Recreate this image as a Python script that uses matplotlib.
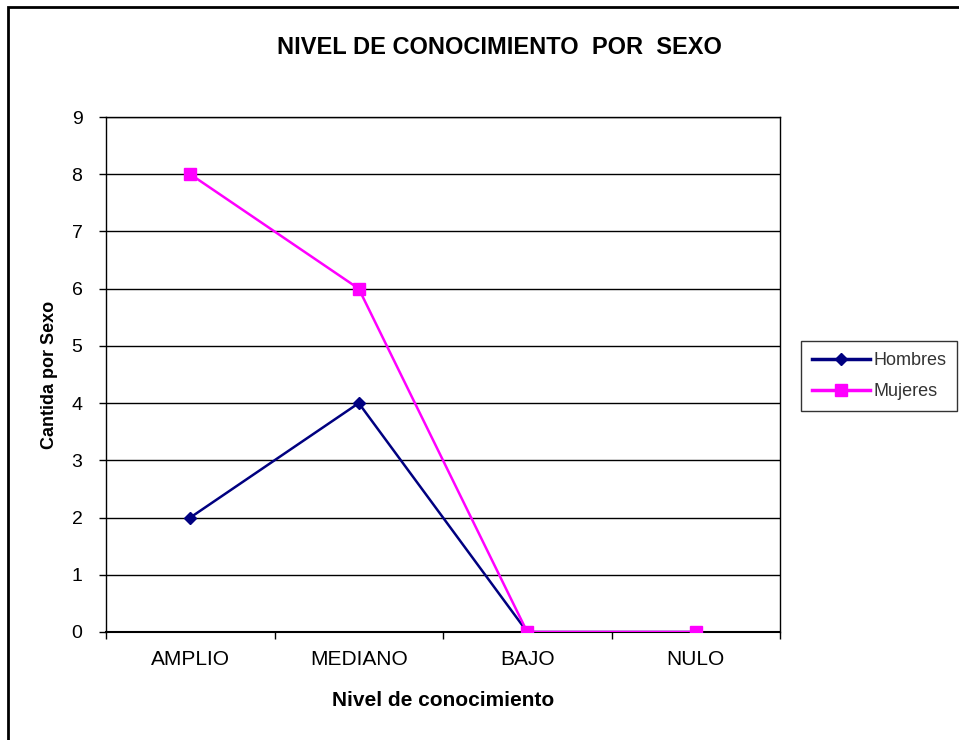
import matplotlib.pyplot as plt
from matplotlib.patches import Rectangle
import numpy as np

plt.rcParams['font.family'] = ['Liberation Sans', 'DejaVu Sans']

# Datos
niveles = ['AMPLIO', 'MEDIANO', 'BAJO', 'NULO']
hombres = [2, 4, 0, 0]
mujeres = [8, 6, 0, 0]
y_ticks = list(range(0, 10))

fig = plt.figure(figsize=(9.59, 7.40), dpi=100)

# Marco exterior del grafico
fig.patches.append(Rectangle((8 / 959, -0.1), 1.2, 0.1 + (1 - 7 / 740), transform=fig.transFigure,
                             fill=False, edgecolor='black', linewidth=2, zorder=0))

ax = fig.add_axes([106 / 959, 1 - 632 / 740, 674 / 959, 515 / 740])
x = np.arange(len(niveles))

ax.plot(x, hombres, color='#000080', marker='D', markersize=6, linewidth=1.8, label='Hombres', zorder=3)
ax.plot(x, mujeres, color='#FF00FF', marker='s', markersize=9, linewidth=1.8, label='Mujeres', zorder=4)

ax.set_xlim(-0.5, len(niveles) - 0.5)
ax.set_ylim(0, 9)
ax.set_yticks(y_ticks)
ax.yaxis.grid(True, color='black', linewidth=1)
ax.set_axisbelow(True)

ax.set_xticks(x)
ax.set_xticklabels(niveles)
ax.set_xticks(np.arange(-0.5, len(niveles)), minor=True)
ax.tick_params(axis='x', which='major', length=0, pad=13, labelsize=15)
ax.tick_params(axis='x', which='minor', length=5, width=1, direction='out')
ax.tick_params(axis='y', length=5, width=1, direction='out', pad=12, labelsize=14)
for s in ax.spines.values():
    s.set_color('black')
    s.set_linewidth(1)
ax.spines['bottom'].set_linewidth(1.5)

ax.set_ylabel('Cantida por Sexo', fontsize=13, fontweight='bold', labelpad=10)
ax.set_xlabel('Nivel de conocimiento', fontsize=15, fontweight='bold', labelpad=16)

fig.text(0.521, 1 - 47 / 740, 'NIVEL DE CONOCIMIENTO  POR  SEXO', ha='center', va='center',
         fontsize=17, fontweight='bold')

leg = fig.legend(loc='upper left', bbox_to_anchor=(801 / 959, 1 - 341 / 740), fontsize=13,
                 frameon=True, fancybox=False, edgecolor='black', borderpad=0.6,
                 labelspacing=0.8, handlelength=3.2, handletextpad=0.2, borderaxespad=0)
leg.get_frame().set_linewidth(1)
for line in leg.get_lines():
    line.set_linewidth(2.5)
for t in leg.get_texts():
    t.set_color('#333333')

fig.savefig('out.png', dpi=100)
